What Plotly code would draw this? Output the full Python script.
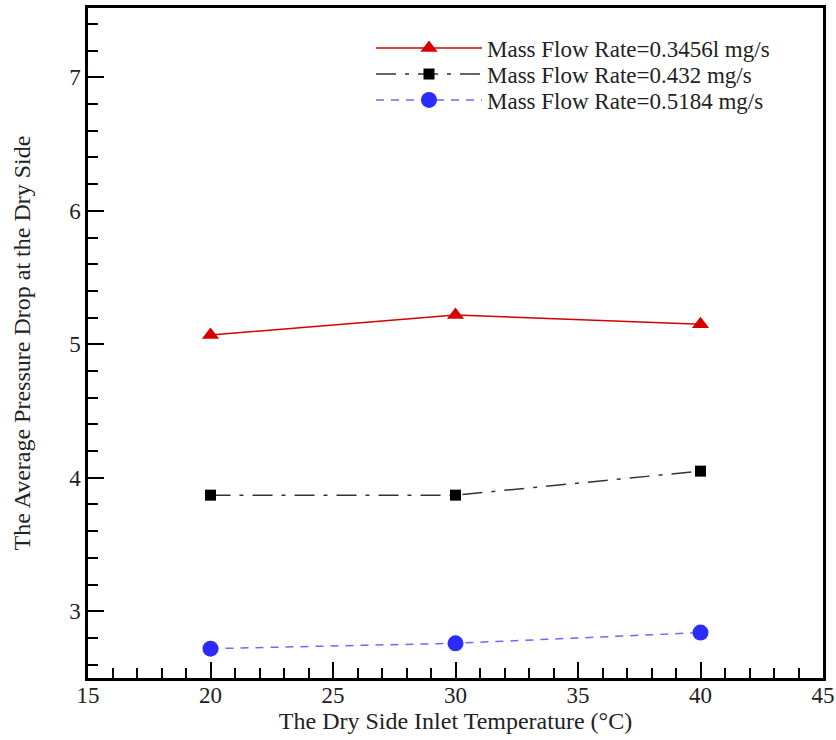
import plotly.graph_objects as go

temps = [20, 30, 40]
dp_03456 = [5.07, 5.22, 5.15]
dp_0432 = [3.87, 3.87, 4.05]
dp_05184 = [2.72, 2.76, 2.84]
names = ["Mass Flow Rate=0.3456l mg/s", "Mass Flow Rate=0.432 mg/s", "Mass Flow Rate=0.5184 mg/s"]

fig = go.Figure()
fig.add_trace(go.Scatter(x=temps, y=dp_03456, name=names[0], mode="lines+markers", legend="legend",
                         showlegend=True,
                         line=dict(color="#d40000", width=1.5),
                         marker=dict(symbol="triangle-up", size=15, color="#d40000")))
fig.add_trace(go.Scatter(x=temps, y=dp_0432, name=names[1], mode="lines+markers", legend="legend2",
                         showlegend=True,
                         line=dict(color="#333333", width=1.5, dash="20px,9px,4px,9px"),
                         marker=dict(symbol="square", size=11, color="black")))
fig.add_trace(go.Scatter(x=temps, y=dp_05184, name=names[2], mode="lines+markers", legend="legend3",
                         showlegend=True,
                         line=dict(color="#6a6aff", width=1.5, dash="8px,7px"),
                         marker=dict(symbol="circle", size=16, color="#2b2bff")))

font = "Liberation Serif, Times New Roman, serif"
axis_common = dict(showline=True, linecolor="black", linewidth=2.5, mirror=True,
                   ticks="inside", tickcolor="black", tickwidth=1.5, ticklen=16,
                   showgrid=False, zeroline=False, automargin=False,
                   tickfont=dict(family=font, size=23, color="#222"))
fig.update_xaxes(range=[15, 45], dtick=5, tick0=15, ticklabelstandoff=-5,
                 minor=dict(dtick=1, ticks="inside", ticklen=10, tickcolor="black", tickwidth=1.5, showgrid=False),
                 title=dict(text="The Dry Side Inlet Temperature (°C)", font=dict(family=font, size=24, color="#222"), standoff=2),
                 **axis_common)
fig.update_yaxes(range=[2.5, 7.52], tickvals=[3, 4, 5, 6, 7],
                 minor=dict(dtick=0.2, tick0=2.6, ticks="inside", ticklen=10, tickcolor="black", tickwidth=1.5, showgrid=False),
                 title=dict(text="The Average Pressure Drop at the Dry Side", font=dict(family=font, size=24, color="#222"), standoff=32),
                 **axis_common)

W, H = 836, 740
ML, MR, MT, MB = 88, 13, 8, 62
ph = H - MT - MB
pw = W - ML - MR
legfont = dict(family=font, size=23, color="#222")

def leg(row_y):
    return dict(x=(371 - ML) / pw, y=1 - (row_y - MT) / ph, xanchor="left", yanchor="middle",
                font=legfont, itemwidth=106, bgcolor="rgba(0,0,0,0)", borderwidth=0)

fig.update_layout(width=W, height=H, margin=dict(l=ML, r=MR, t=MT, b=MB, autoexpand=False),
                  paper_bgcolor="white", plot_bgcolor="white", showlegend=True,
                  legend=leg(48), legend2=leg(74), legend3=leg(100))
fig.write_html("out.html", config={"displayModeBar": False},
               post_script="document.body.style.margin='0';document.body.style.overflow='hidden';")
